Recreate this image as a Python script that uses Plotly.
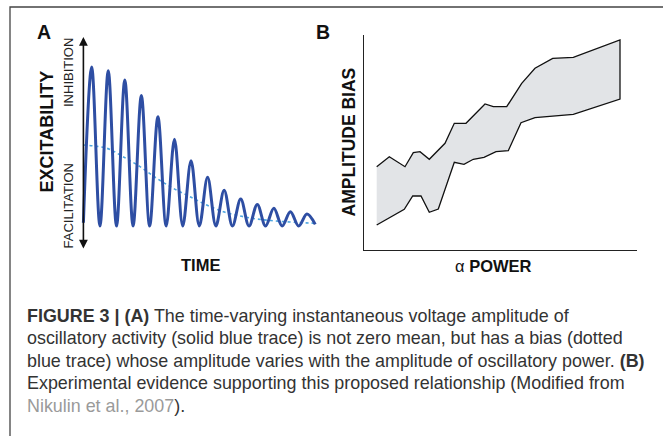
import plotly.graph_objects as go

W, H = 663, 436

# ---- panel A: oscillation (troughs at whole cycles, peaks half-way) ----
wave_t = [0, 0.5, 1, 1.5, 2, 2.5, 3, 3.5, 4, 4.5, 5, 5.5, 6, 6.5, 7, 7.5,
          8, 8.5, 9, 9.5, 10, 10.5, 11, 11.5, 12, 12.5, 13, 13.5, 14]
wave_v = [0.02, 1.0, 0, 0.977, 0, 0.918, 0, 0.82, 0, 0.687, 0, 0.545, 0, 0.411, 0, 0.306,
          0, 0.225, 0, 0.17, 0, 0.136, 0, 0.111, 0, 0.09, 0, 0.075, 0.01]

# bias (dotted trace)
bias_t = [0, 1.41, 2.39, 3.42, 4.43, 5.43, 6.44, 7.45, 8.45, 9.46, 10.47, 11.47, 12.47, 13.99]
bias_v = [0.509, 0.489, 0.436, 0.373, 0.300, 0.237, 0.184, 0.132, 0.090, 0.063, 0.044, 0.033, 0.025, 0.017]

# ---- panel B: amplitude bias band ----
upper_x = [0.455, 0.918, 1.494, 1.799, 2.045, 2.386, 2.963, 3.304, 3.733, 4.431, 4.736,
           5.228, 5.778, 6.266, 6.916, 7.673, 9.387]
upper_y = [3.874, 4.340, 3.874, 4.526, 4.572, 4.219, 4.963, 5.893, 5.893, 6.791, 6.665,
           6.665, 7.753, 8.451, 8.916, 8.963, 9.767]
lower_x = [0.455, 1.468, 1.777, 2.081, 2.386, 2.717, 3.304, 3.660, 4.001, 4.394, 4.835,
           5.286, 5.753, 6.266, 6.880, 7.673, 9.387]
lower_y = [1.163, 1.893, 2.512, 2.512, 1.753, 1.907, 4.079, 3.986, 4.219, 4.312, 4.572,
           4.619, 5.921, 6.153, 6.233, 6.312, 7.023]

caption_lines = [
    "<b>FIGURE 3 | (A)</b> The time-varying instantaneous voltage amplitude of",
    "oscillatory activity (solid blue trace) is not zero mean, but has a bias (dotted",
    "blue trace) whose amplitude varies with the amplitude of oscillatory power. <b>(B)</b>",
    "Experimental evidence supporting this proposed relationship (Modified from",
    "<span style='color:#9a9a9a'>Nikulin et al., 2007</span>).",
]

FONT = "Liberation Sans, Arial, sans-serif"


def fx(p):
    return p / W


def fy(p):
    return 1 - p / H


fig = go.Figure()

fig.add_trace(go.Scatter(x=bias_t, y=bias_v, mode="lines", xaxis="x", yaxis="y",
                         line=dict(color="#4ea6e0", width=1.6, dash="dot", shape="spline"),
                         hoverinfo="skip"))
fig.add_trace(go.Scatter(x=wave_t, y=wave_v, mode="lines", xaxis="x", yaxis="y",
                         line=dict(color="#2e4ea3", width=3, shape="spline", smoothing=1.0),
                         hoverinfo="skip"))

band_x = upper_x + lower_x[::-1]
band_y = upper_y + lower_y[::-1]
fig.add_trace(go.Scatter(x=band_x, y=band_y, mode="lines", fill="toself",
                         fillcolor="#e2e4e7", xaxis="x2", yaxis="y2",
                         line=dict(color="#111111", width=1.3), hoverinfo="skip"))

# axis geometry (pixels)
a_px_per_t = 16.56
a_t0 = 83.4
a_px_per_v = 159.0
a_v0 = 226.0

fig.update_layout(
    width=W, height=H,
    margin=dict(l=0, r=0, t=0, b=0),
    paper_bgcolor="white", plot_bgcolor="rgba(0,0,0,0)",
    showlegend=False,
    xaxis=dict(range=[-0.5, 14.5], visible=False,
               domain=[fx(a_t0 - 0.5 * a_px_per_t), fx(a_t0 + 14.5 * a_px_per_t)]),
    yaxis=dict(range=[-0.2, 1.25], visible=False,
               domain=[fy(a_v0 + 0.2 * a_px_per_v), fy(a_v0 - 1.25 * a_px_per_v)]),
    xaxis2=dict(range=[0, 10], domain=[fx(364.3), fx(636.7)], anchor="y2",
                showline=True, linecolor="#222222", linewidth=1.2,
                showgrid=False, zeroline=False, showticklabels=False, ticks=""),
    yaxis2=dict(range=[0, 10], domain=[fy(250), fy(35)], anchor="x2",
                showline=True, linecolor="#222222", linewidth=1.2,
                showgrid=False, zeroline=False, showticklabels=False, ticks=""),
)

# frame around the figure (runs off the right and bottom edges)
fig.add_shape(type="rect", xref="paper", yref="paper", layer="above",
              x0=fx(10), x1=fx(W + 20), y0=fy(7), y1=fy(H + 20),
              line=dict(color="#444444", width=1.3), fillcolor="rgba(0,0,0,0)")

# double-headed excitability arrow
fig.add_annotation(x=0, y=(a_v0 - 37) / a_px_per_v, ax=0, ay=(a_v0 - 250) / a_px_per_v,
                   xref="x", yref="y", axref="x", ayref="y", text="", showarrow=True,
                   arrowside="end+start", arrowhead=2, arrowsize=1.1, arrowwidth=1.6,
                   arrowcolor="#111111", standoff=0, startstandoff=0, startarrowhead=2,
                   startarrowsize=1.1)


def label(text, x, y, size, bold=False, angle=0, color="#111111"):
    fig.add_annotation(x=fx(x), y=fy(y), xref="paper", yref="paper",
                       text=f"<b>{text}</b>" if bold else text, showarrow=False,
                       textangle=angle, xanchor="center", yanchor="middle",
                       font=dict(family=FONT, size=size, color=color))


label("A", 44, 31.5, 19.5, bold=True)
label("B", 323, 31.5, 19.5, bold=True)
label("EXCITABILITY", 46.5, 132, 18, bold=True, angle=-90)
label("INHIBITION", 68.5, 72.5, 13, angle=-90, color="#222222")
label("FACILITATION", 68.5, 206, 13, angle=-90, color="#222222")
label("TIME", 200, 265, 16.5, bold=True)
label("AMPLITUDE BIAS", 348, 142.5, 17.5, bold=True, angle=-90)
label("\u03b1 <b>POWER</b>", 493, 266, 16.5, color="#111111")

baselines = [321.7, 344.2, 366.7, 389.2, 411.7]
for line, base in zip(caption_lines, baselines):
    fig.add_annotation(x=fx(25), y=fy(base - 6), xref="paper", yref="paper",
                       text=line, showarrow=False, xanchor="left", yanchor="middle",
                       font=dict(family=FONT, size=17.9, color="#333333"))

# drop the browser's default page margin so the figure sits at the window corner
fig.write_html("out.html", config={"displayModeBar": False},
               post_script="document.body.style.margin='0';")
